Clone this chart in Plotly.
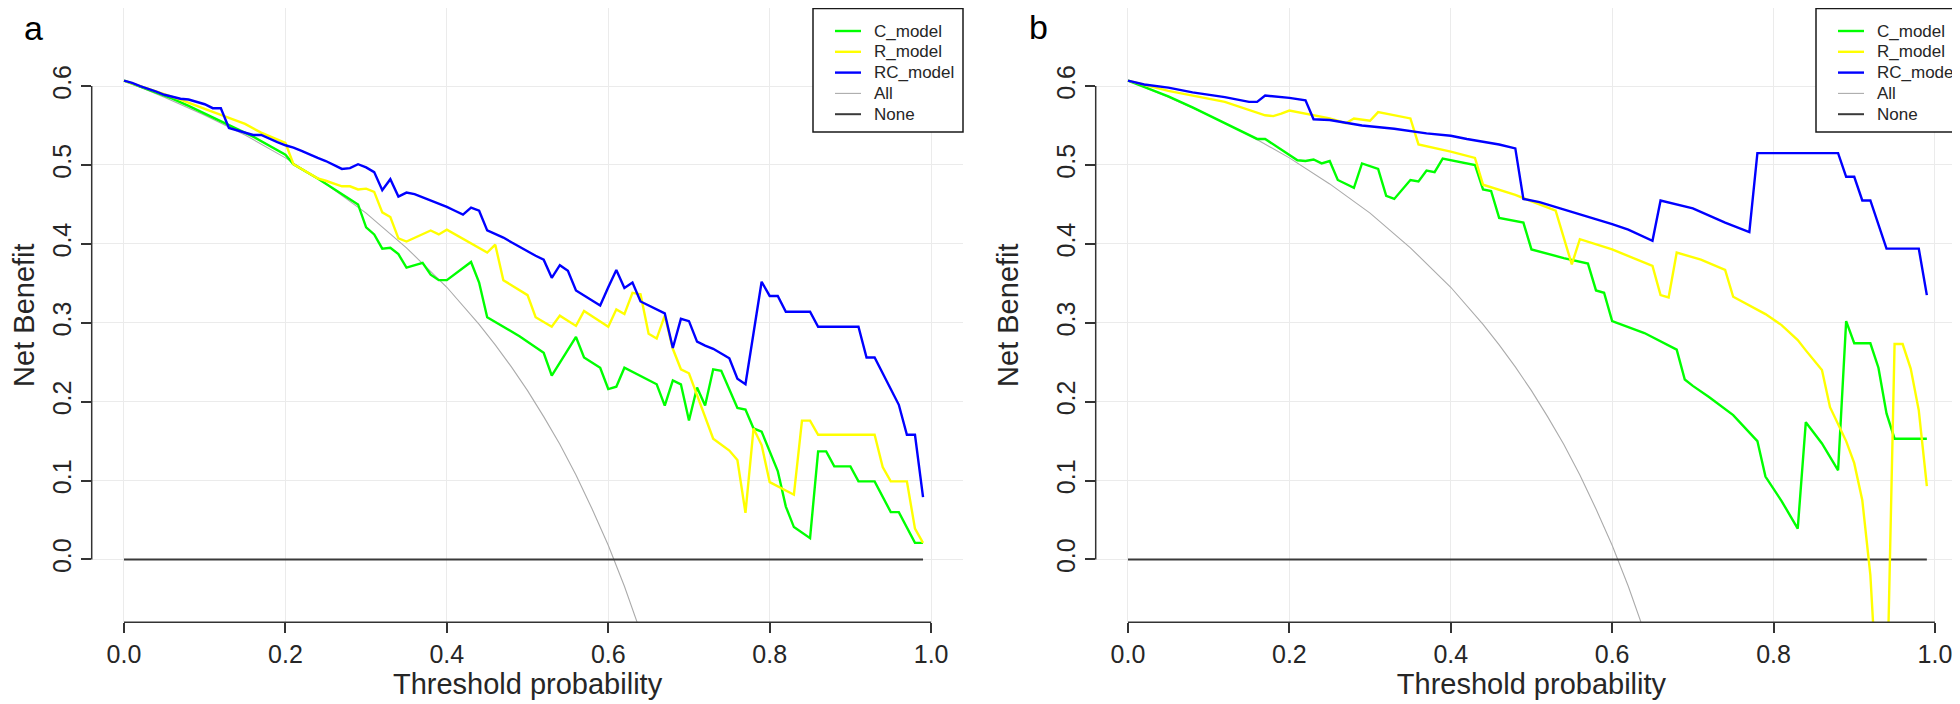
import plotly.graph_objects as go

# ---------------- data ----------------
x_ticks = [0.0, 0.2, 0.4, 0.6, 0.8, 1.0]
x_tick_labels = ["0.0", "0.2", "0.4", "0.6", "0.8", "1.0"]
y_ticks = [0.0, 0.1, 0.2, 0.3, 0.4, 0.5, 0.6]
y_tick_labels = ["0.0", "0.1", "0.2", "0.3", "0.4", "0.5", "0.6"]

# Treat-all curve (same in both panels)
all_thr = [0.00, 0.05, 0.10, 0.15, 0.20, 0.25, 0.30, 0.35, 0.40, 0.42, 0.44, 0.46,
           0.48, 0.50, 0.52, 0.54, 0.56, 0.58, 0.60, 0.62, 0.64, 0.66]
all_nb = [0.607, 0.586, 0.563, 0.538, 0.509, 0.476, 0.439, 0.395, 0.345, 0.322, 0.298, 0.272,
          0.244, 0.214, 0.181, 0.146, 0.107, 0.064, 0.018, -0.034, -0.092, -0.156]

# Treat-none line
none_thr = [0.00, 0.99]
none_nb = [0.0, 0.0]

# ---- panel a ----
a_c_thr = [0.00, 0.06, 0.08, 0.13, 0.16, 0.20, 0.21, 0.24, 0.29, 0.30, 0.31, 0.32, 0.33, 0.34,
           0.35, 0.37, 0.38, 0.39, 0.40, 0.43, 0.44, 0.45, 0.49, 0.52, 0.53, 0.56, 0.57, 0.59,
           0.60, 0.61, 0.62, 0.66, 0.67, 0.68, 0.69, 0.70, 0.71, 0.72, 0.73, 0.74, 0.76, 0.77,
           0.78, 0.79, 0.81, 0.82, 0.83, 0.85, 0.86, 0.87, 0.88, 0.90, 0.91, 0.93, 0.95, 0.96,
           0.98, 0.99]
a_c_nb = [0.607, 0.584, 0.575, 0.551, 0.536, 0.513, 0.501, 0.483, 0.450, 0.421, 0.412, 0.394, 0.395, 0.387,
          0.370, 0.376, 0.361, 0.354, 0.354, 0.377, 0.351, 0.307, 0.283, 0.262, 0.233, 0.282, 0.256, 0.243,
          0.216, 0.219, 0.243, 0.222, 0.195, 0.227, 0.222, 0.176, 0.218, 0.195, 0.241, 0.239, 0.192, 0.190,
          0.166, 0.162, 0.112, 0.067, 0.041, 0.027, 0.137, 0.137, 0.118, 0.118, 0.099, 0.099, 0.060, 0.060,
          0.021, 0.021]

a_r_thr = [0.00, 0.07, 0.10, 0.15, 0.17, 0.20, 0.21, 0.24, 0.25, 0.27, 0.28, 0.29, 0.30, 0.31,
           0.32, 0.33, 0.34, 0.35, 0.38, 0.39, 0.40, 0.45, 0.46, 0.47, 0.50, 0.51, 0.53, 0.54,
           0.56, 0.57, 0.60, 0.61, 0.62, 0.63, 0.64, 0.65, 0.66, 0.67, 0.68, 0.69, 0.70, 0.73,
           0.75, 0.76, 0.77, 0.78, 0.79, 0.80, 0.83, 0.84, 0.85, 0.86, 0.93, 0.94, 0.95, 0.97,
           0.98, 0.99]
a_r_nb = [0.607, 0.583, 0.571, 0.552, 0.541, 0.528, 0.501, 0.483, 0.480, 0.473, 0.473, 0.469, 0.470, 0.466,
          0.440, 0.434, 0.407, 0.403, 0.417, 0.412, 0.418, 0.389, 0.399, 0.354, 0.335, 0.307, 0.295, 0.309,
          0.296, 0.315, 0.295, 0.317, 0.311, 0.338, 0.336, 0.286, 0.280, 0.309, 0.267, 0.241, 0.236, 0.153,
          0.138, 0.126, 0.059, 0.166, 0.145, 0.098, 0.082, 0.176, 0.176, 0.158, 0.158, 0.117, 0.099, 0.099,
          0.039, 0.021]

a_rc_thr = [round(0.01 * i, 2) for i in range(100)]
a_rc_nb = [0.607, 0.604, 0.600, 0.597, 0.593, 0.589, 0.586, 0.584, 0.583, 0.580,
           0.577, 0.572, 0.572, 0.547, 0.544, 0.541, 0.538, 0.538, 0.533, 0.529,
           0.525, 0.522, 0.518, 0.513, 0.509, 0.505, 0.500, 0.495, 0.496, 0.501,
           0.497, 0.491, 0.468, 0.482, 0.460, 0.465, 0.463, 0.459, 0.455, 0.451,
           0.447, 0.442, 0.437, 0.446, 0.442, 0.417, 0.413, 0.408, 0.402, 0.396,
           0.390, 0.385, 0.380, 0.357, 0.373, 0.366, 0.341, 0.335, 0.328, 0.322,
           0.345, 0.367, 0.344, 0.351, 0.327, 0.322, 0.317, 0.312, 0.268, 0.305,
           0.302, 0.276, 0.271, 0.267, 0.261, 0.255, 0.229, 0.222, 0.287, 0.352,
           0.334, 0.334, 0.314, 0.314, 0.314, 0.314, 0.295, 0.295, 0.295, 0.295,
           0.295, 0.295, 0.256, 0.256, 0.236, 0.216, 0.196, 0.158, 0.158, 0.079]

# ---- panel b ----
b_c_thr = [0.00, 0.05, 0.08, 0.13, 0.16, 0.17, 0.21, 0.22, 0.23, 0.24, 0.25, 0.26, 0.28, 0.29,
           0.31, 0.32, 0.33, 0.35, 0.36, 0.37, 0.38, 0.39, 0.40, 0.43, 0.44, 0.45, 0.46, 0.49,
           0.50, 0.54, 0.57, 0.58, 0.59, 0.60, 0.64, 0.68, 0.69, 0.70, 0.72, 0.75, 0.78, 0.79,
           0.81, 0.83, 0.84, 0.86, 0.88, 0.89, 0.90, 0.92, 0.93, 0.94, 0.95, 0.99]
b_c_nb = [0.607, 0.587, 0.573, 0.548, 0.533, 0.533, 0.506, 0.505, 0.507, 0.502, 0.505, 0.481, 0.471, 0.502,
          0.495, 0.461, 0.457, 0.481, 0.479, 0.493, 0.491, 0.508, 0.506, 0.500, 0.469, 0.467, 0.433, 0.427,
          0.393, 0.382, 0.375, 0.341, 0.338, 0.302, 0.287, 0.266, 0.228, 0.220, 0.206, 0.183, 0.150, 0.105,
          0.074, 0.039, 0.174, 0.147, 0.113, 0.302, 0.274, 0.274, 0.243, 0.185, 0.153, 0.153]

b_r_thr = [0.00, 0.05, 0.12, 0.17, 0.18, 0.19, 0.20, 0.22, 0.25, 0.27, 0.28, 0.30, 0.31, 0.35,
           0.36, 0.40, 0.43, 0.44, 0.48, 0.53, 0.55, 0.56, 0.60, 0.65, 0.66, 0.67, 0.68, 0.71,
           0.74, 0.75, 0.79, 0.81, 0.83, 0.84, 0.86, 0.87, 0.88, 0.89, 0.90, 0.91, 0.92, 0.93,
           0.94, 0.95, 0.96, 0.97, 0.98, 0.99]
b_r_nb = [0.607, 0.594, 0.580, 0.563, 0.562, 0.565, 0.569, 0.565, 0.559, 0.553, 0.559, 0.556, 0.567, 0.559,
          0.526, 0.517, 0.509, 0.475, 0.462, 0.442, 0.374, 0.406, 0.393, 0.372, 0.335, 0.332, 0.389, 0.380,
          0.367, 0.333, 0.311, 0.297, 0.278, 0.265, 0.240, 0.193, 0.172, 0.150, 0.122, 0.075, -0.020, -0.200,
          -0.200, 0.273, 0.273, 0.242, 0.189, 0.093]

b_rc_thr = [0.00, 0.02, 0.05, 0.08, 0.12, 0.15, 0.16, 0.17, 0.20, 0.22, 0.23, 0.25, 0.29, 0.33,
            0.37, 0.40, 0.42, 0.46, 0.48, 0.49, 0.51, 0.56, 0.60, 0.62, 0.64, 0.65, 0.66, 0.70,
            0.74, 0.77, 0.78, 0.88, 0.89, 0.90, 0.91, 0.92, 0.94, 0.98, 0.99]
b_rc_nb = [0.607, 0.602, 0.598, 0.592, 0.586, 0.580, 0.580, 0.588, 0.585, 0.582, 0.558, 0.557, 0.550, 0.546,
           0.540, 0.537, 0.533, 0.526, 0.521, 0.457, 0.453, 0.438, 0.425, 0.418, 0.409, 0.404, 0.455, 0.445,
           0.427, 0.415, 0.515, 0.515, 0.485, 0.485, 0.455, 0.455, 0.394, 0.394, 0.335]

series_names = ["C_model", "R_model", "RC_model", "All", "None"]
series_colors = ["#00FF00", "#FFFF00", "#0000FF", "#ABABAB", "#3A3A3A"]
series_widths = [2.4, 2.4, 2.4, 1.1, 2.0]

panels = {
    "a": {"C": (a_c_thr, a_c_nb), "R": (a_r_thr, a_r_nb), "RC": (a_rc_thr, a_rc_nb)},
    "b": {"C": (b_c_thr, b_c_nb), "R": (b_r_thr, b_r_nb), "RC": (b_rc_thr, b_rc_nb)},
}

# ---------------- figure ----------------
W, H = 1960, 704
FONT = "Liberation Sans, Arial, sans-serif"
TXT = "#262626"

fig = go.Figure()

for i, key in enumerate(["a", "b"]):
    xa = "x" if i == 0 else "x2"
    ya = "y" if i == 0 else "y2"
    p = panels[key]
    # draw order: All, None, C, R, RC
    fig.add_trace(go.Scatter(x=all_thr, y=all_nb, mode="lines", name=series_names[3],
                             line=dict(color=series_colors[3], width=series_widths[3]),
                             xaxis=xa, yaxis=ya, showlegend=False))
    fig.add_trace(go.Scatter(x=none_thr, y=none_nb, mode="lines", name=series_names[4],
                             line=dict(color=series_colors[4], width=series_widths[4]),
                             xaxis=xa, yaxis=ya, showlegend=False))
    for j, k in enumerate(["C", "R", "RC"]):
        xs, ys = p[k]
        fig.add_trace(go.Scatter(x=xs, y=ys, mode="lines", name=series_names[j],
                                 line=dict(color=series_colors[j], width=series_widths[j]),
                                 xaxis=xa, yaxis=ya, showlegend=False))

# geometry (pixels)
ya_bottom_px = 614.3
y_range = [-0.0797, 0.699]
x_range = [-0.04, 1.04]
xa_dom = [83.7 / W, 955.4 / W]
xb_dom = [1087.7 / W, 1959.2 / W]
y_dom = [(H - ya_bottom_px) / H, 1.0]

common_x = dict(range=x_range, tickvals=x_ticks, ticktext=x_tick_labels, ticks="outside",
                ticklen=10, tickwidth=1.5, tickcolor="#333333", showline=False, zeroline=False,
                showgrid=True, gridcolor="#EBEBEB", gridwidth=1, automargin=False,
                tickfont=dict(family=FONT, size=25, color=TXT),
                title=dict(text="Threshold probability", font=dict(family=FONT, size=29, color=TXT),
                           standoff=3),
                fixedrange=True)
common_y = dict(range=y_range, tickvals=y_ticks, ticktext=y_tick_labels, ticks="outside",
                ticklen=10, tickwidth=1.5, tickcolor="#333333", showline=False, zeroline=False,
                showgrid=True, gridcolor="#EBEBEB", gridwidth=1, automargin=False, tickangle=-90,
                tickfont=dict(family=FONT, size=25, color=TXT),
                title=dict(text="Net Benefit", font=dict(family=FONT, size=29, color=TXT),
                           standoff=24),
                fixedrange=True)

fig.update_layout(
    width=W, height=H,
    margin=dict(l=0, r=0, t=0, b=0),
    paper_bgcolor="white", plot_bgcolor="white",
    font=dict(family=FONT, color=TXT),
    showlegend=False,
    xaxis=dict(domain=xa_dom, anchor="y", **common_x),
    yaxis=dict(domain=y_dom, anchor="x", **common_y),
    xaxis2=dict(domain=xb_dom, anchor="y2", **common_x),
    yaxis2=dict(domain=y_dom, anchor="x2", **common_y),
)

# R-style axis lines spanning only the tick range
for xa, ya in [("x", "y"), ("x2", "y2")]:
    fig.add_shape(type="line", xref=xa, yref=ya + " domain", x0=min(x_ticks), x1=max(x_ticks),
                  y0=0, y1=0, line=dict(color="#333333", width=1.5), layer="above")
    fig.add_shape(type="line", xref=xa + " domain", yref=ya, x0=0, x1=0,
                  y0=min(y_ticks), y1=max(y_ticks), line=dict(color="#333333", width=1.5), layer="above")

# R-style legend boxes (top-right of each panel), in pixel layout positions
legend_boxes = [(805, 955), (1808, 1957)]
box_top, box_bottom = 0.5, 124
row_first, row_step = 23, 20.8
for (bx0, bx1) in legend_boxes:
    fig.add_shape(type="rect", xref="paper", yref="paper",
                  x0=bx0 / W, x1=bx1 / W, y0=1 - box_bottom / H, y1=1 - box_top / H,
                  line=dict(color="#1a1a1a", width=1.5), fillcolor="white", layer="above")
    for k, (nm, col, lw) in enumerate(zip(series_names, series_colors, series_widths)):
        yy = 1 - (row_first + k * row_step) / H
        fig.add_shape(type="line", xref="paper", yref="paper",
                      x0=(bx0 + 22) / W, x1=(bx0 + 48) / W, y0=yy, y1=yy,
                      line=dict(color=col, width=lw), layer="above")
        fig.add_annotation(text=nm, xref="paper", yref="paper", x=(bx0 + 60) / W, y=yy,
                           xanchor="left", yanchor="middle", showarrow=False, borderpad=0,
                           font=dict(family=FONT, size=17, color=TXT))

# panel letters
fig.add_annotation(text="a", xref="paper", yref="paper", x=25 / W, y=1 - 20 / H,
                   showarrow=False, font=dict(family=FONT, size=34, color="black"),
                   xanchor="center", yanchor="middle", borderpad=0)
fig.add_annotation(text="b", xref="paper", yref="paper", x=1030 / W, y=1 - 19 / H,
                   showarrow=False, font=dict(family=FONT, size=34, color="black"),
                   xanchor="center", yanchor="middle", borderpad=0)

fig.write_html("out.html", config={"displayModeBar": False})
